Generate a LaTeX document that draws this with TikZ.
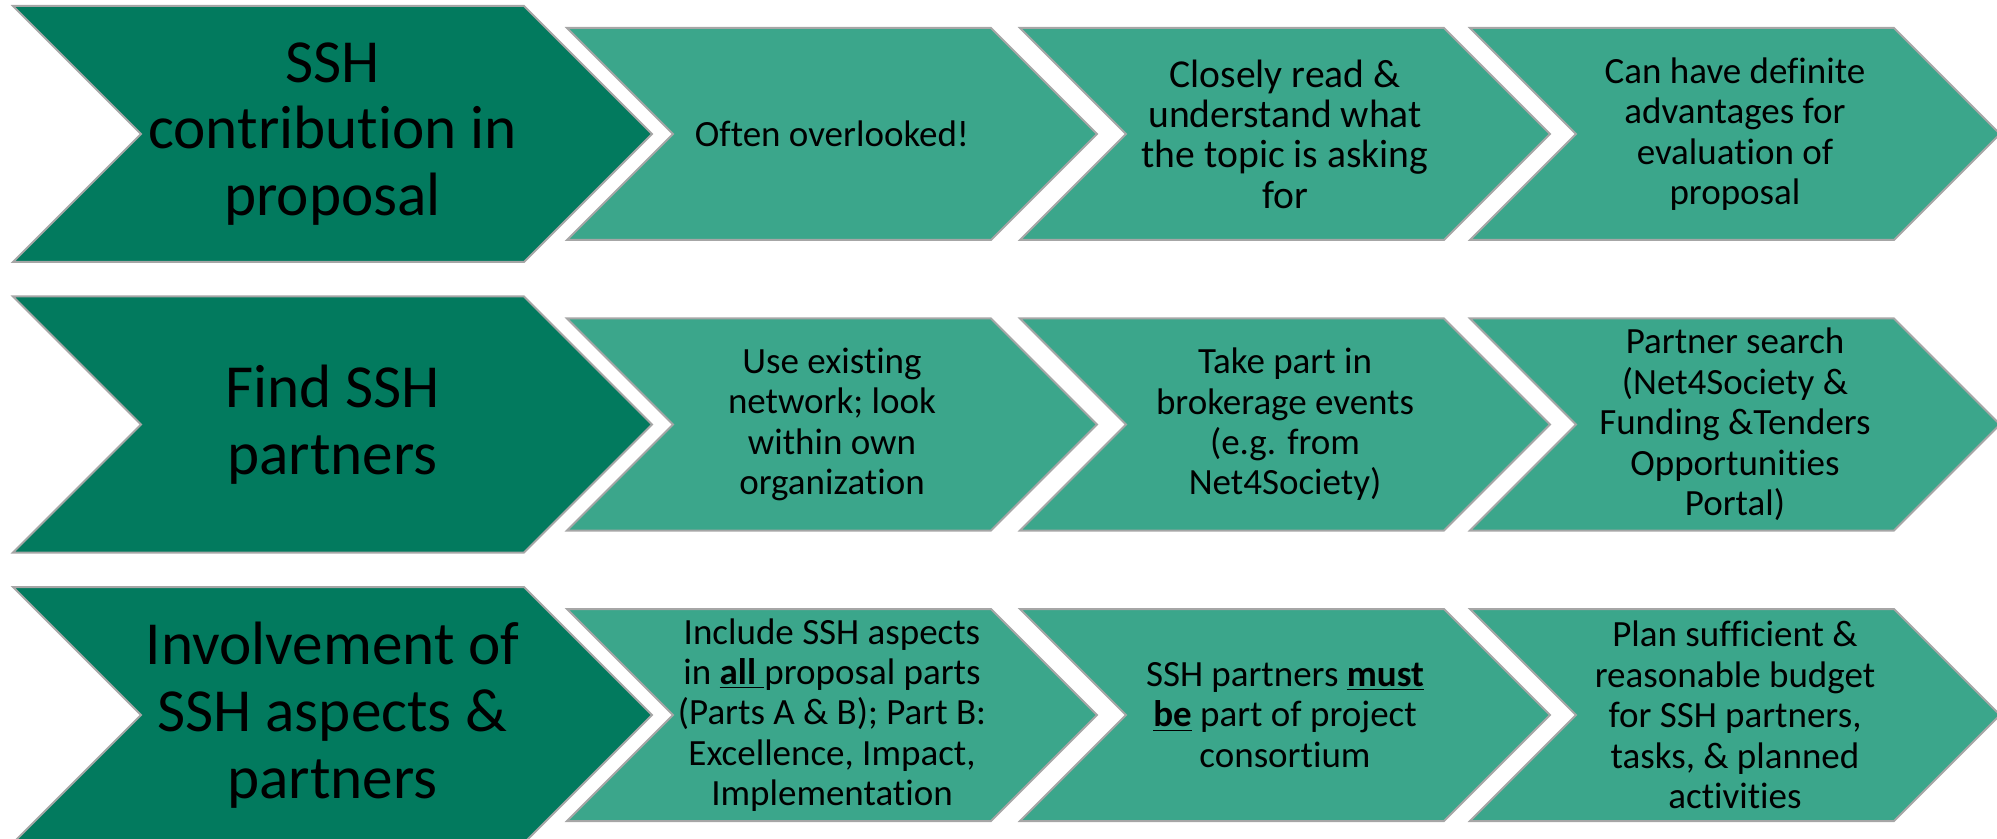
\documentclass[tikz,border=0pt]{standalone}
\usepackage{fontspec}
\setmainfont{Carlito}[Ligatures=NoCommon]
\definecolor{darkg}{RGB}{2,122,94}
\definecolor{lightg}{RGB}{59,166,139}
\definecolor{edgeg}{RGB}{166,166,166}
\newcommand\chev[5]{% #1 left x, #2 center y, #3 width, #4 half height, #5 style
  \draw[#5] (#1,#2-#4) -- ++(#3-#4,0) -- ++(#4,#4) -- ++(-#4,#4) -- (#1,#2+#4) -- ++(#4,-#4) -- cycle;}
\newcommand\ulb[1]{\underline{\textbf{#1}}}
\begin{document}
\begin{tikzpicture}[x=0.5pt,y=-0.5pt,
  bigchev/.style={fill=darkg,draw=edgeg,line width=1pt,line join=miter},
  smallchev/.style={fill=lightg,draw=edgeg,line width=1pt,line join=miter},
  bigtxt/.style={align=center,inner sep=0pt,font=\fontsize{30.6}{33.4}\selectfont},
  smalltxt/.style={align=center,inner sep=0pt,font=\fontsize{18.5}{20.2}\selectfont},
  smalltxtb/.style={align=center,inner sep=0pt,font=\fontsize{19.8}{20.2}\selectfont}]
\useasboundingbox (0,0) rectangle (1997,839);
\clip (0,0) rectangle (1997,839);
% row 1
\chev{13}{134}{639}{128}{bigchev}
\chev{567}{134}{530}{106}{smallchev}
\chev{1020}{134}{530}{106}{smallchev}
\chev{1470}{134}{530}{106}{smallchev}
\node[bigtxt] (r1a) at (332.5,134) {SSH\\contribution in\\proposal};
\node[smalltxt] (r1b) at (832,134) {Often overlooked!};
\node[smalltxtb] (r1c) at (1285,134) {Closely read \&\\understand what\\the topic is asking\\for};
\node[smalltxt] (r1d) at (1735,134) {Can have definite\\advantages for\\evaluation of\\proposal};
% row 2
\chev{13}{424.5}{639}{128}{bigchev}
\chev{567}{424.5}{530}{106}{smallchev}
\chev{1020}{424.5}{530}{106}{smallchev}
\chev{1470}{424.5}{530}{106}{smallchev}
\node[bigtxt] (r2a) at (332.5,424.5) {Find SSH\\partners};
\node[smalltxt] (r2b) at (832,424.5) {Use existing\\network; look\\within own\\organization};
\node[smalltxt] (r2c) at (1285,424.5) {Take part in\\brokerage events\\(e.g. from\\Net4Society)};
\node[smalltxt] (r2d) at (1735,424.5) {Partner search\\(Net4Society \&\\Funding \&Tenders\\Opportunities\\Portal)};
% row 3
\chev{13}{715}{639}{128}{bigchev}
\chev{567}{715}{530}{106}{smallchev}
\chev{1020}{715}{530}{106}{smallchev}
\chev{1470}{715}{530}{106}{smallchev}
\node[bigtxt] (r3a) at (332.5,715) {Involvement of\\SSH aspects \&\\partners};
\node[smalltxt] (r3b) at (832,715) {Include SSH aspects\\in \ulb{all\ }proposal parts\\(Parts A \& B); Part B:\\Excellence, Impact,\\Implementation};
\node[smalltxt] (r3c) at (1285,715) {SSH partners \ulb{must}\\\ulb{be} part of project\\consortium};
\node[smalltxt] (r3d) at (1735,715) {Plan sufficient \&\\reasonable budget\\for SSH partners,\\tasks, \& planned\\activities};
\end{tikzpicture}
\end{document}
